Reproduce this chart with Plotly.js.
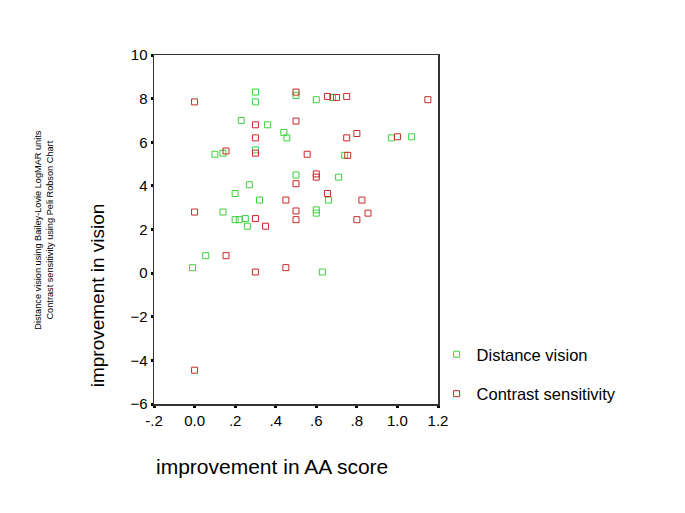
<!DOCTYPE html>
<html>
<head>
<meta charset="utf-8">
<script src="https://cdn.plot.ly/plotly-3.0.1.min.js"></script>
<style>html,body{margin:0;padding:0;background:#fff;}#chart{width:685px;height:513px;}</style>
</head>
<body>
<div id="chart"></div>
<script>
// Distance vision (green)
const distX = [0.30, 0.30, 0.50, 0.23, 0.36, 0.44, 0.455, 0.10, 0.14, 0.30, 0.60, 0.68, 0.97, 1.07, 0.74, 0.50, 0.27, 0.20, 0.32, 0.14, 0.20, 0.22, 0.25, 0.26, 0.055, -0.01, 0.71, 0.66, 0.60, 0.60, 0.63];
const distY = [8.30, 7.85, 8.15, 7.00, 6.80, 6.45, 6.20, 5.45, 5.50, 5.65, 7.95, 8.05, 6.20, 6.25, 5.40, 4.50, 4.05, 3.65, 3.35, 2.80, 2.45, 2.45, 2.50, 2.15, 0.80, 0.25, 4.40, 3.35, 2.90, 2.75, 0.05];
// Contrast sensitivity (red)
const contX = [0.00, 0.30, 0.50, 0.50, 0.30, 0.155, 0.30, 0.655, 0.70, 0.75, 1.15, 0.80, 0.75, 1.00, 0.555, 0.755, 0.50, 0.45, 0.00, 0.50, 0.30, 0.50, 0.35, 0.155, 0.30, 0.45, 0.60, 0.60, 0.655, 0.825, 0.855, 0.80, 0.00];
const contY = [7.85, 6.80, 8.30, 6.97, 6.20, 5.60, 5.50, 8.10, 8.05, 8.10, 7.95, 6.40, 6.20, 6.25, 5.45, 5.40, 4.10, 3.35, 2.80, 2.85, 2.50, 2.45, 2.15, 0.80, 0.05, 0.25, 4.55, 4.40, 3.65, 3.35, 2.75, 2.45, -4.45];

const xTickVals = [-0.2, 0.0, 0.2, 0.4, 0.6, 0.8, 1.0, 1.2];
const xTickText = ["-.2", "0.0", ".2", ".4", ".6", ".8", "1.0", "1.2"];
const yTickVals = [-6, -4, -2, 0, 2, 4, 6, 8, 10];

const FONT = '"Liberation Sans", Arial, sans-serif';

const traces = [
  {x: distX, y: distY, type: 'scatter', mode: 'markers', name: 'Distance vision', legendgroup: 'a',
   marker: {symbol: 'square-open', size: 6, color: '#3cd23c', line: {width: 1}}},
  {x: contX, y: contY, type: 'scatter', mode: 'markers', name: 'Contrast sensitivity', legendgroup: 'b',
   marker: {symbol: 'square-open', size: 6, color: '#c82828', line: {width: 1}}}
];

const layout = {
  width: 685, height: 513,
  margin: {l: 154, r: 247, t: 55, b: 109},
  paper_bgcolor: '#fff', plot_bgcolor: '#fff',
  font: {family: FONT, color: '#000'},
  showlegend: true,
  legend: {x: 0.995, y: 0.086, xanchor: 'left', yanchor: 'middle', traceorder: 'grouped', tracegroupgap: 15,
           font: {family: FONT, size: 16.5, color: '#000'}, bgcolor: 'rgba(0,0,0,0)'},
  xaxis: {range: [-0.2, 1.2], tickvals: xTickVals, ticktext: xTickText, showgrid: false, zeroline: false,
          showline: true, mirror: true, linecolor: '#333', linewidth: 1.5,
          ticks: 'outside', ticklen: 2, tickwidth: 3, tickcolor: '#000',
          tickfont: {family: FONT, size: 15, color: '#000'}},
  yaxis: {range: [-6, 10], tickvals: yTickVals, showgrid: false, zeroline: false,
          showline: true, mirror: true, linecolor: '#333', linewidth: 1.5,
          ticks: 'outside', ticklen: 2, tickwidth: 3, tickcolor: '#000',
          tickfont: {family: FONT, size: 15, color: '#000'}},
  annotations: [
    {text: 'Distance vision using Bailey-Lovie LogMAR units<br>Contrast sensitivity using Peli Robson Chart',
     xref: 'paper', yref: 'paper', x: -0.39, y: 0.5, xanchor: 'center', yanchor: 'middle',
     textangle: -90, showarrow: false, align: 'center',
     font: {family: FONT, size: 9.2, color: '#000'}},
    {text: 'improvement in vision', xref: 'paper', yref: 'paper', x: -0.2, y: 0.312,
     xanchor: 'center', yanchor: 'middle', textangle: -90, showarrow: false,
     font: {family: FONT, size: 19, color: '#000'}},
    {text: 'improvement in AA score', xref: 'paper', yref: 'paper', x: 0.414, y: -0.18,
     xanchor: 'center', yanchor: 'middle', showarrow: false,
     font: {family: FONT, size: 21, color: '#000'}}
  ]
};

Plotly.newPlot('chart', traces, layout, {displayModeBar: false, staticPlot: true});
</script>
</body>
</html>
